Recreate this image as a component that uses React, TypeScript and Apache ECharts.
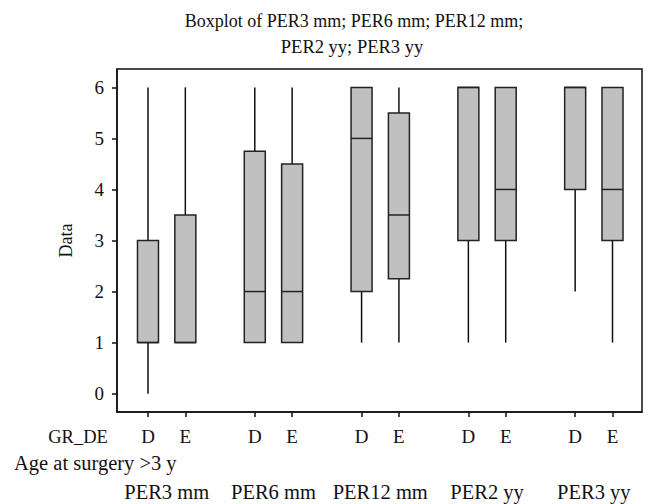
import React, { useEffect, useRef } from "react";
import * as echarts from "echarts";

const groups = ["PER3 mm", "PER6 mm", "PER12 mm", "PER2 yy", "PER3 yy"];
const subgroups = ["D", "E"];
const lowD = [0, 1, 1, 1, 2];
const q1D = [1, 1, 2, 3, 4];
const medD = [1, 2, 5, 6, 6];
const q3D = [3, 4.75, 6, 6, 6];
const highD = [6, 6, 6, 6, 6];
const lowE = [1, 1, 1, 1, 1];
const q1E = [1, 1, 2.25, 3, 3];
const medE = [1, 2, 3.5, 4, 4];
const q3E = [3.5, 4.5, 5.5, 6, 6];
const highE = [6, 6, 6, 6, 6];
const yTicks = [0, 1, 2, 3, 4, 5, 6];

const GROUP_GAP = 2.86;
const FONT = "'Liberation Serif', 'Times New Roman', serif";

export default function App() {
  const ref = useRef<HTMLDivElement>(null);
  useEffect(() => {
    if (!ref.current) return;
    const chart = echarts.init(ref.current, undefined, { renderer: "svg" });
    const data: number[][] = [];
    const xPos: number[] = [];
    const xNames: string[] = [];
    groups.forEach((g, i) => {
      const sets = [
        [lowD[i], q1D[i], medD[i], q3D[i], highD[i]],
        [lowE[i], q1E[i], medE[i], q3E[i], highE[i]],
      ];
      subgroups.forEach((s, j) => {
        const x = i * GROUP_GAP + j;
        xPos.push(x);
        xNames.push(s);
        data.push([x, ...sets[j]]);
      });
    });
    const groupCenters = groups.map((_, i) => i * GROUP_GAP + 0.5);
    const xMin = -0.83;
    const xMax = 13.23;
    const lineStyle = { stroke: "#111", lineWidth: 1.5 };

    chart.setOption({
      animation: false,
      backgroundColor: "#fff",
      textStyle: { fontFamily: FONT },
      grid: {
        left: 117,
        top: 69,
        width: 525,
        height: 343,
        show: true,
        borderColor: "#111",
        borderWidth: 1.5,
        backgroundColor: "transparent",
      },
      graphic: [
        {
          type: "text",
          x: 354,
          y: 21,
          style: {
            text: "Boxplot of PER3 mm; PER6 mm; PER12 mm;",
            font: `18px ${FONT}`,
            fill: "#111",
            textAlign: "center",
            textVerticalAlign: "middle",
          },
        },
        {
          type: "text",
          x: 352,
          y: 47,
          style: {
            text: "PER2 yy; PER3 yy",
            font: `18.5px ${FONT}`,
            fill: "#111",
            textAlign: "center",
            textVerticalAlign: "middle",
          },
        },
        {
          type: "text",
          x: 78,
          y: 437,
          style: {
            text: "GR_DE",
            font: `18.5px ${FONT}`,
            fill: "#111",
            textAlign: "center",
            textVerticalAlign: "middle",
          },
        },
        {
          type: "text",
          x: 14,
          y: 463,
          style: {
            text: "Age at surgery >3 y",
            font: `20.5px ${FONT}`,
            fill: "#111",
            textAlign: "left",
            textVerticalAlign: "middle",
          },
        },
      ],
      xAxis: [
        {
          type: "value",
          min: xMin,
          max: xMax,
          position: "bottom",
          splitLine: { show: false },
          axisLine: { show: true, onZero: false, lineStyle: { color: "#111", width: 1.5 } },
          axisTick: {
            show: true,
            inside: false,
            length: 5,
            customValues: xPos,
            lineStyle: { color: "#111", width: 1.5 },
          },
          axisLabel: {
            show: true,
            customValues: xPos,
            margin: 15,
            fontSize: 19,
            fontFamily: FONT,
            color: "#111",
            formatter: (v: number) => {
              const k = xPos.findIndex((p) => Math.abs(p - v) < 1e-6);
              return k >= 0 ? xNames[k] : "";
            },
          },
        },
        {
          type: "value",
          min: xMin,
          max: xMax,
          position: "bottom",
          offset: 62,
          splitLine: { show: false },
          axisLine: { show: false, onZero: false },
          axisTick: { show: false },
          axisLabel: {
            show: true,
            customValues: groupCenters,
            margin: 7,
            fontSize: 20.5,
            fontFamily: FONT,
            color: "#111",
            formatter: (v: number) => {
              const k = groupCenters.findIndex((p) => Math.abs(p - v) < 1e-6);
              return k >= 0 ? groups[k] : "";
            },
          },
        },
      ],
      yAxis: {
        type: "value",
        min: -0.36,
        max: 6.36,
        name: "Data",
        nameLocation: "middle",
        nameGap: 42,
        nameTextStyle: { fontSize: 18, fontFamily: FONT, color: "#111" },
        splitLine: { show: false },
        axisLine: { show: true, onZero: false, lineStyle: { color: "#111", width: 1.5 } },
        axisTick: {
          show: true,
          inside: false,
          length: 5,
          customValues: yTicks,
          lineStyle: { color: "#111", width: 1.5 },
        },
        axisLabel: {
          show: true,
          customValues: yTicks,
          margin: 13,
          fontSize: 19,
          fontFamily: FONT,
          color: "#111",
        },
      },
      series: [
        {
          type: "custom",
          xAxisIndex: 0,
          yAxisIndex: 0,
          data,
          encode: { x: 0, y: [1, 2, 3, 4, 5] },
          renderItem: (params: any, api: any) => {
            const x = api.value(0);
            const lo = api.coord([x, api.value(1)]);
            const q1 = api.coord([x, api.value(2)]);
            const md = api.coord([x, api.value(3)]);
            const q3 = api.coord([x, api.value(4)]);
            const hi = api.coord([x, api.value(5)]);
            const hw = 10.5;
            const cx = lo[0];
            return {
              type: "group",
              children: [
                {
                  type: "line",
                  shape: { x1: cx, y1: lo[1], x2: cx, y2: q1[1] },
                  style: lineStyle,
                },
                {
                  type: "line",
                  shape: { x1: cx, y1: q3[1], x2: cx, y2: hi[1] },
                  style: lineStyle,
                },
                {
                  type: "rect",
                  shape: { x: cx - hw, y: q3[1], width: hw * 2, height: q1[1] - q3[1] },
                  style: { fill: "#c0c0c0", stroke: "#222", lineWidth: 1.5 },
                },
                {
                  type: "line",
                  shape: { x1: cx - hw, y1: md[1], x2: cx + hw, y2: md[1] },
                  style: { stroke: "#222", lineWidth: 1.5 },
                },
              ],
            };
          },
        },
      ],
    });
    return () => chart.dispose();
  }, []);
  return (
    <div
      ref={ref}
      style={{ position: "fixed", left: 0, top: 0, width: 650, height: 504 }}
    />
  );
}
